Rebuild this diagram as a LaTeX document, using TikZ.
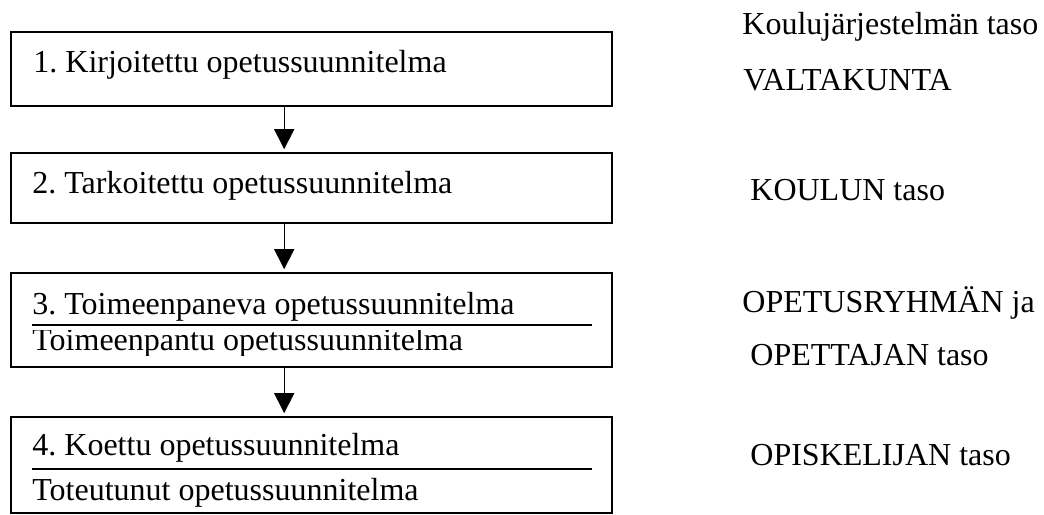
\documentclass[tikz,border=0pt]{standalone}
\usepackage{fontspec}
\setmainfont{Liberation Serif}
\frenchspacing
\usetikzlibrary{arrows.meta}
\tikzset{level/.style = {shape=rectangle,draw,line width=0.8pt,minimum width=300.5pt,inner sep=0pt}}
\tikzset{label/.style = {anchor=base west,inner sep=0pt,font=\fontsize{16}{19}\selectfont}}
\tikzset{flow/.style = {-{Triangle[width=10pt,length=10pt]},line width=0.7pt,shorten >=1.5pt}}
\tikzset{divider/.style = {line width=1pt}}

\begin{document}
\begin{tikzpicture}[x=0.5pt,y=-0.5pt]
\useasboundingbox (0,0) rectangle (1044,514);
% boxes
\node[level,minimum height=37pt] (k1) at (311.5,69) {};
\node[level,minimum height=35pt] (k2) at (311.5,188) {};
\node[level,minimum height=47pt] (k3) at (311.5,320) {};
\node[level,minimum height=48pt] (k4) at (311.5,465) {};

% box texts
\node[label] (t1) at (33,72) {1. Kirjoitettu opetussuunnitelma};
\node[label] (t2) at (32,193) {2. Tarkoitettu opetussuunnitelma};
\node[label] (t3) at (32,314) {3. Toimeenpaneva opetussuunnitelma};
\begin{scope}
\clip (20,330) rectangle (600,355);
\node[label] (t3b) at (32,350) {Toimeenpantu opetussuunnitelma};
\end{scope}
\node[label] (t4) at (32,455) {4. Koettu opetussuunnitelma};
\node[label] (t4b) at (32,500) {Toteutunut opetussuunnitelma};
\draw[divider] (32,325) -- (592,325);
\draw[divider] (32,469) -- (592,469);

% levels
\node[label] (l1) at (742,34) {Koulujärjestelmän taso};
\node[label] (l1b) at (743,90) {VALTAKUNTA};
\node[label] (l2) at (750,200) {KOULUN taso};
\node[label] (l3) at (742,312) {OPETUSRYHMÄN ja};
\node[label] (l3b) at (750,365) {OPETTAJAN taso};
\node[label] (l4) at (750,465) {OPISKELIJAN taso};

%edges
\draw[flow] ([xshift=137pt]k1.south west) -- ([xshift=137pt]k2.north west);
\draw[flow] ([xshift=137pt]k2.south west) -- ([xshift=137pt]k3.north west);
\draw[flow] ([xshift=137pt]k3.south west) -- ([xshift=137pt]k4.north west);
\end{tikzpicture}
\end{document}
